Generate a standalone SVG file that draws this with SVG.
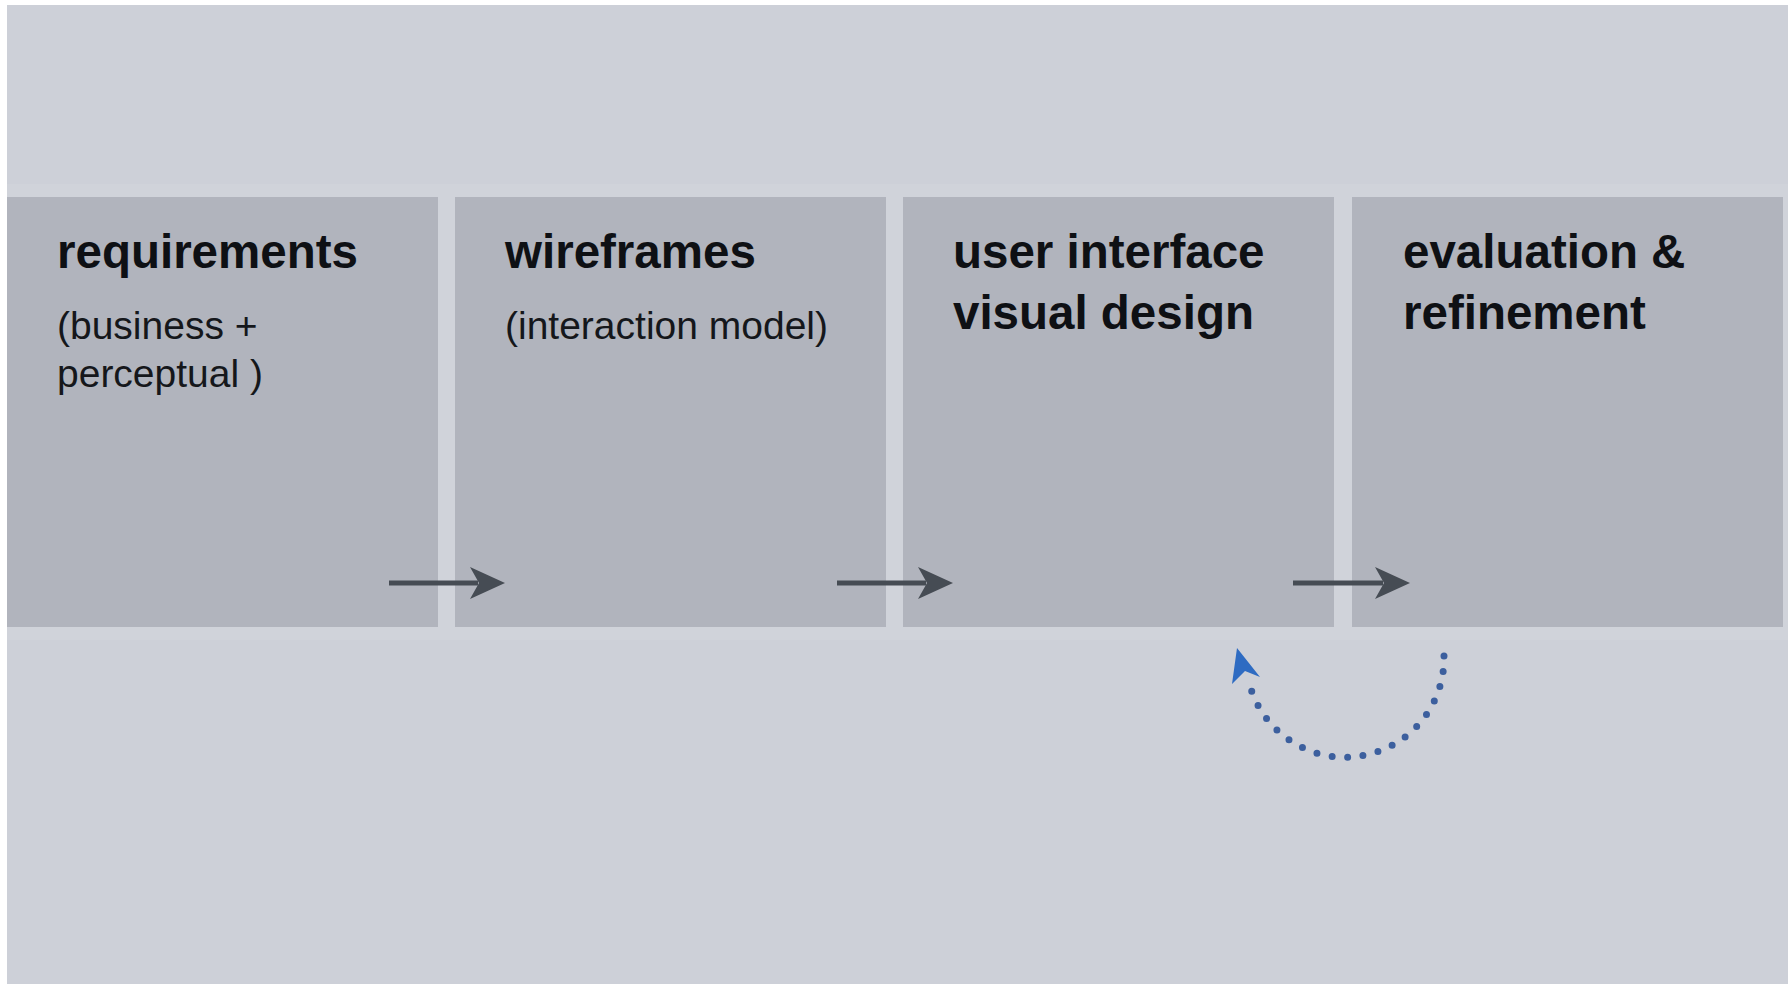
<svg xmlns="http://www.w3.org/2000/svg" width="1788" height="984" viewBox="0 0 1788 984">
  <defs>
    <style>
      .stage { fill: #b1b4bd; }
      .title { font-family: "Liberation Sans", Arial, sans-serif; font-weight: bold; font-size: 47.5px; fill: #0e1014; }
      .sub { font-family: "Liberation Sans", Arial, sans-serif; font-size: 39px; fill: #15171b; }
      .flow { stroke: #464c54; stroke-width: 5; fill: none; }
      .head { fill: #464c54; }
      .loop { stroke: #3c5f9e; stroke-width: 7; stroke-linecap: round; stroke-dasharray: 0 15.5; fill: none; }
    </style>
  </defs>

  <!-- canvas -->
  <rect x="0" y="0" width="1788" height="984" fill="#ffffff"/>
  <rect x="7" y="5" width="1781" height="979" fill="#cdd0d8"/>
  <rect x="7" y="184" width="1781" height="456" fill="#d0d3da"/>

  <!-- stages -->
  <g id="requirements">
    <rect class="stage" x="7" y="197" width="431" height="430"/>
    <text class="title" x="57" y="268">requirements</text>
    <text class="sub" x="57" y="339">(business +</text>
    <text class="sub" x="57" y="387">perceptual )</text>
  </g>
  <g id="wireframes">
    <rect class="stage" x="455" y="197" width="431" height="430"/>
    <text class="title" x="505" y="268">wireframes</text>
    <text class="sub" x="505" y="339">(interaction model)</text>
  </g>
  <g id="visual-design">
    <rect class="stage" x="903" y="197" width="431" height="430"/>
    <text class="title" x="953" y="268">user interface</text>
    <text class="title" x="953" y="329">visual design</text>
  </g>
  <g id="evaluation">
    <rect class="stage" x="1352" y="197" width="431" height="430"/>
    <text class="title" x="1403" y="268">evaluation &amp;</text>
    <text class="title" x="1403" y="329">refinement</text>
  </g>

  <!-- connectors -->
  <g id="connectors">
    <line class="flow" x1="389" y1="583" x2="478" y2="583"/>
    <path class="head" d="M505 583 L470 567 L479 583 L470 599 Z"/>
    <line class="flow" x1="837" y1="583" x2="926" y2="583"/>
    <path class="head" d="M953 583 L918 567 L927 583 L918 599 Z"/>
    <line class="flow" x1="1293" y1="583" x2="1383" y2="583"/>
    <path class="head" d="M1410 583 L1375 567 L1384 583 L1375 599 Z"/>

    <!-- iteration loop back to visual design -->
    <path class="loop" d="M1444 656 A 99 99 0 0 1 1250 686"/>
    <path d="M1237 648 L1260 677 L1245 671 L1232 684 Z" fill="#2e6bc2"/>
  </g>
</svg>
